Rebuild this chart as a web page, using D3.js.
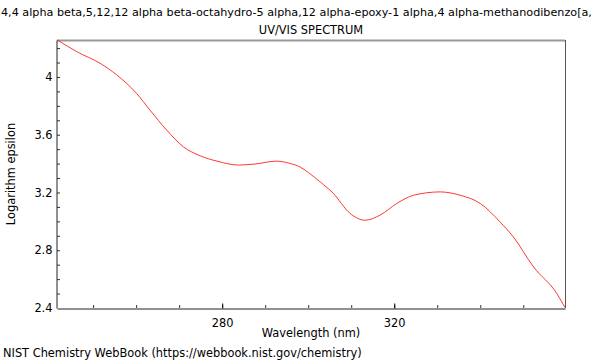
<!DOCTYPE html>
<html>
<head>
<meta charset="utf-8">
<script src="https://cdn.jsdelivr.net/npm/d3@7"></script>
<style>
  body { margin: 0; background: #fff; }
  text { font-family: "DejaVu Sans", sans-serif; font-size: 11.4px; fill: #000; }
</style>
</head>
<body>
<div id="chart"></div>
<script>
const width = 600;
const height = 360;
const marginTop = 40;
const marginRight = 35;
const marginBottom = 52;
const marginLeft = 57;

// the long compound name runs off the image in the original; keep the visible part
const titleText = "4,4 alpha beta,5,12,12 alpha beta-octahydro-5 alpha,12 alpha-epoxy-1 alpha,4 alpha-methanodibenzo[a,";

// wavelength (nm) and log epsilon
const wavelength = [241.7, 246.2, 251.6, 255.5, 260.1, 263.2, 267.1, 271.0, 274.9, 278.8,
    283.8, 287.3, 292.7, 295.8, 298.1, 300.0, 302.8, 305.8, 309.7, 313.2,
    316.7, 320.6, 324.5, 330.7, 335.3, 340.0, 344.6, 347.7, 352.4, 357.8, 359.7];
const logEps = [4.256, 4.175, 4.095, 4.014, 3.886, 3.771, 3.632, 3.516, 3.454, 3.417,
    3.390, 3.396, 3.417, 3.401, 3.377, 3.339, 3.273, 3.195, 3.056, 3.008,
    3.043, 3.124, 3.181, 3.204, 3.181, 3.124, 2.996, 2.892, 2.684, 2.500, 2.403];

const xTicks = [280, 320];
const yTicks = [2.4, 2.8, 3.2, 3.6, 4];

const svg = d3.select("#chart")
    .append("svg")
    .attr("width", width)
    .attr("height", height);

const x = d3.scaleLinear()
    .domain([241.6, 359.7])
    .range([marginLeft, width - marginRight]);

const y = d3.scaleLinear()
    .domain([2.4, 4.256])
    .range([height - marginBottom, marginTop]);

// frame
svg.append("line")
    .attr("x1", marginLeft).attr("x2", width - marginRight)
    .attr("y1", marginTop + 0.5).attr("y2", marginTop + 0.5)
    .attr("stroke", "#999").attr("stroke-width", 2);
svg.append("line")
    .attr("x1", width - marginRight + 0.5).attr("x2", width - marginRight + 0.5)
    .attr("y1", marginTop).attr("y2", height - marginBottom)
    .attr("stroke", "#555");

// minor ticks
const xMinor = d3.range(250, 360, 10);
const yMinor = d3.range(25, 43).map(d => d / 10);

svg.append("g")
    .attr("transform", `translate(0,${height - marginBottom})`)
    .call(d3.axisBottom(x).tickValues(xMinor).tickSize(-3).tickFormat(""))
    .call(g => g.select(".domain").remove())
    .selectAll("line").attr("stroke", "#333");

svg.append("g")
    .attr("transform", `translate(${marginLeft},0)`)
    .call(d3.axisLeft(y).tickValues(yMinor).tickSize(-3).tickFormat(""))
    .call(g => g.select(".domain").remove())
    .selectAll("line").attr("stroke", "#333");

// major axes
const xAxis = svg.append("g")
    .attr("transform", `translate(0,${height - marginBottom + 0.5})`)
    .call(d3.axisBottom(x).tickValues(xTicks).tickSizeInner(-5).tickSizeOuter(0).tickPadding(10).tickFormat(d3.format("d")));
xAxis.select(".domain").attr("stroke", "#222");
xAxis.selectAll("text").style("font-family", "DejaVu Sans").style("font-size", "11.4px");

const yAxis = svg.append("g")
    .attr("transform", `translate(${marginLeft - 0.5},0)`)
    .call(d3.axisLeft(y).tickValues(yTicks).tickSizeInner(0).tickSizeOuter(0).tickPadding(4).tickFormat(d => d3.format("~g")(d)));
yAxis.select(".domain").attr("stroke", "#222");
yAxis.selectAll("text").style("font-family", "DejaVu Sans").style("font-size", "11.4px");

// spectrum
const line = d3.line()
    .x((d, i) => x(wavelength[i]))
    .y(d => y(d))
    .curve(d3.curveMonotoneX);

svg.append("path")
    .datum(logEps)
    .attr("fill", "none")
    .attr("stroke", "#ff2020")
    .attr("stroke-width", 0.9)
    .attr("d", line);

// texts
svg.append("text")
    .attr("x", 1).attr("y", 16)
    .style("font-size", "11.2px")
    .text(titleText);

svg.append("text")
    .attr("x", 311).attr("y", 34)
    .attr("text-anchor", "middle")
    .text("UV/VIS SPECTRUM");

svg.append("text")
    .attr("x", 311).attr("y", 337)
    .attr("text-anchor", "middle")
    .text("Wavelength (nm)");

svg.append("text")
    .attr("transform", "translate(15,174) rotate(-90)")
    .attr("text-anchor", "middle")
    .text("Logarithm epsilon");

svg.append("text")
    .attr("x", 3).attr("y", 357)
    .text("NIST Chemistry WebBook (https://webbook.nist.gov/chemistry)");
</script>
</body>
</html>
